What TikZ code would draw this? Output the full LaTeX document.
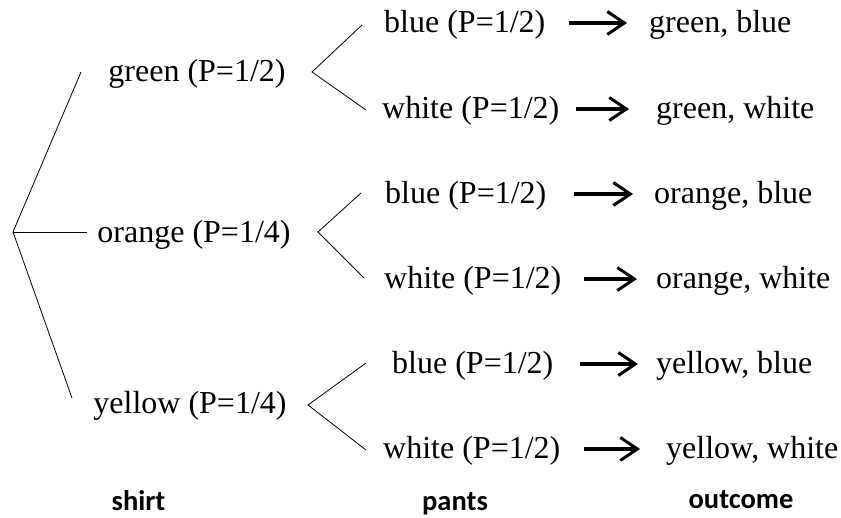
\documentclass[tikz,border=0pt]{standalone}
\usepackage{fontspec}
\setmainfont{Liberation Serif}
\newfontfamily\labfont{Carlito}
\usetikzlibrary{arrows.meta}
\begin{document}
\begin{tikzpicture}[x=1pt,y=-1pt,
  serif/.style={font=\fontsize{32}{36}\selectfont, inner sep=0pt, text height=25.4pt, text depth=6.4pt},
  pant/.style={serif, anchor=west},
  outc/.style={serif, anchor=west},
  lab/.style={font=\labfont\bfseries\fontsize{28.5}{32}\selectfont, inner sep=0pt, anchor=base},
  branch/.style={line width=0.8pt},
  res/.style 2 args={line width=3.1pt, -{Straight Barb[length=17pt,width=23pt,line width=3pt]}, shorten <=#1, shorten >=#2},
]
\useasboundingbox (0,0) rectangle (841,518);

% first level
\coordinate (root) at (13,232);
\coordinate (rg) at (81,72);
\coordinate (ro) at (87,232);
\coordinate (ry) at (72,398);
\node[serif] (sg) at (197,72) {green (P=1/2)};
\node[serif] (so) at (194,233) {orange (P=1/4)};
\node[serif] (sy) at (190,404) {yellow (P=1/4)};
\draw[branch] (rg) -- (root) -- (ry);
\draw[branch] (root) -- (ro);

% second level branches
\coordinate (ag) at (312,72);
\coordinate (gb) at (362,25);
\coordinate (gw) at (366,110);
\coordinate (ao) at (318,232);
\coordinate (ob) at (361,193);
\coordinate (ow) at (364,278);
\coordinate (ay) at (308,405);
\coordinate (yb) at (366,363);
\coordinate (yw) at (366,450);
\draw[branch] (gb) -- (ag) -- (gw);
\draw[branch] (ob) -- (ao) -- (ow);
\draw[branch] (yb) -- (ay) -- (yw);

% pants
\node[pant] (p1b) at (384,23) {blue (P=1/2)};
\node[pant] (p1w) at (382,109) {white (P=1/2)};
\node[pant] (p2b) at (385,194) {blue (P=1/2)};
\node[pant] (p2w) at (384,279) {white (P=1/2)};
\node[pant] (p3b) at (392,364) {blue (P=1/2)};
\node[pant] (p3w) at (383,449) {white (P=1/2)};

% outcomes
\node[outc] (o1b) at (649,23) {green, blue};
\node[outc] (o1w) at (656,109) {green, white};
\node[outc] (o2b) at (654,194) {orange, blue};
\node[outc] (o2w) at (656,279) {orange, white};
\node[outc] (o3b) at (656,364) {yellow, blue};
\node[outc] (o3w) at (666,449) {yellow, white};

% arrows
\draw[res={23pt}{22pt}] (p1b.east) -- (o1b.west);
\draw[res={16pt}{27pt}] (p1w.east) -- (o1w.west);
\draw[res={27pt}{21pt}] (p2b.east) -- (o2b.west);
\draw[res={22pt}{19pt}] (p2w.east) -- (o2w.west);
\draw[res={26pt}{18pt}] (p3b.east) -- (o3b.west);
\draw[res={23pt}{26pt}] (p3w.east) -- (o3w.west);

% column labels
\node[lab] (lshirt) at (138.5,510) {shirt};
\node[lab] (lpants) at (455,510) {pants};
\node[lab] (lout) at (741,508) {outcome};
\end{tikzpicture}
\end{document}
